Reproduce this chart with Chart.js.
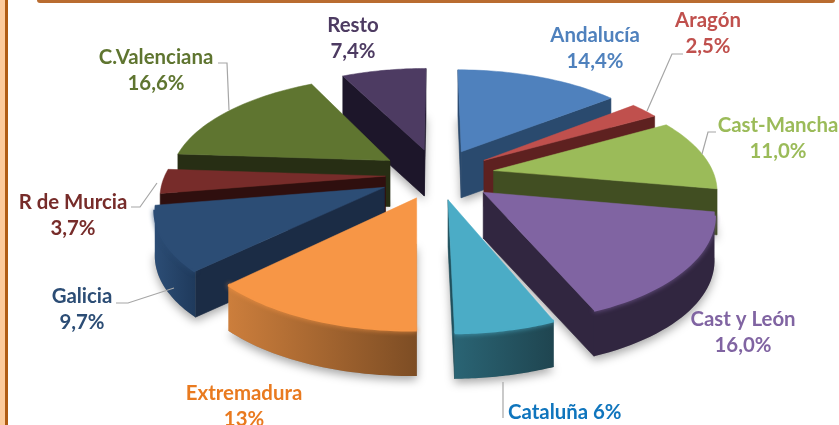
<!DOCTYPE html>
<html>
<head>
<meta charset="utf-8">
<style>
  html, body { margin: 0; padding: 0; background: #fff; }
  #wrap { position: relative; width: 839px; height: 425px; overflow: hidden; }
  #leftPeach { position: absolute; left: 0; top: 0; width: 5px; height: 425px; background: #fdcb9c; }
  #leftBar { position: absolute; left: 5px; top: 0; width: 3px; height: 425px; background: #b05c14; }
  #topBar { position: absolute; left: 37px; top: 0; width: 798px; height: 3px; background: #b96c30; border-radius: 0 0 3px 3px; }
  canvas { position: absolute; left: 0; top: 0; }
</style>
</head>
<body>
<div id="wrap">
  <div id="leftPeach"></div>
  <div id="leftBar"></div>
  <div id="topBar"></div>
  <canvas id="pie" width="839" height="425"></canvas>
</div>
<script src="https://cdn.jsdelivr.net/npm/chart.js@4/dist/chart.umd.min.js"></script>
<script>
const regions = ['Andalucía', 'Aragón', 'Cast-Mancha', 'Cast y León', 'Cataluña', 'Extremadura', 'Galicia', 'R de Murcia', 'C.Valenciana', 'Resto'];
const shares = [14.4, 2.5, 11.0, 16.0, 6, 13, 9.7, 3.7, 16.6, 7.4];
const shareLabels = ['14,4%', '2,5%', '11,0%', '16,0%', '6%', '13%', '9,7%', '3,7%', '16,6%', '7,4%'];

const faceColors = ['#4f81bd', '#c0504d', '#9bbb59', '#8064a2', '#4bacc6', '#f79646', '#2c4d75', '#772c2a', '#5f7530', '#4d3b62'];
const wallColors = ['#2a4a6e', '#5e2120', '#414e22', '#312640', '#1f4f5c', '#8a5226', '#1b2c45', '#2f0f0e', '#272e14', '#1d162a'];
const rimLeft = ['#2a4a6e', '#5e2120', '#414e22', '#312640', '#2a6474', '#cc7e3c', '#2c4d75', '#2f0f0e', '#272e14', '#1d162a'];
const rimRight = ['#2a4a6e', '#5e2120', '#414e22', '#312640', '#1f4550', '#7d4d24', '#1f3a5c', '#2f0f0e', '#272e14', '#1d162a'];
const textColors = ['#4f81bd', '#c0504d', '#9bbb59', '#8064a2', '#0f75bd', '#e97a1f', '#2c4d75', '#772c2a', '#5f7530', '#4d3b62'];

// how far each slice is pulled out of the pie, in pixels
const pullOut = [55, 55, 55, 55, 50, 49, 55, 49, 55, 55];

// label anchors and leader lines, in page pixels
const labelAt = [[595, 35], [708, 20], [778, 125], [743, 319], null, [244, 393], [82, 296], [73, 202], [156, 57], [353, 25]];
const secondLineGap = 26;
const leaders = [
  null,
  [[647, 111], [672, 54], [683, 54]],
  [[702, 154], [708, 132], [716, 132]],
  null,
  [[503, 382], [503, 418]],
  null,
  [[174, 288], [128, 303], [116, 303]],
  [[157, 183], [140, 207], [131, 207]],
  [[229, 110], [227, 63], [218, 63]],
  null
];

const camera = { wide: 1.05, tilt: 0.487, persp: 0.163, depth: 46 };

function project(cx, cy, R, u, v, z) {
  const s = 1 / (1 + camera.persp * v / R);
  return [cx + u * camera.wide * s, cy - v * camera.tilt * s + z];
}

function sliceGeometry(el) {
  const R = el.outerRadius;
  const off = el.options.offset;
  const mid = (el.startAngle + el.endAngle) / 2;
  const ox = Math.cos(mid) * off;
  const oy = -Math.sin(mid) * off;
  const pts = [];
  const steps = 30;
  for (let i = 0; i <= steps; i++) {
    const a = el.startAngle + (el.endAngle - el.startAngle) * i / steps;
    pts.push([ox + Math.cos(a) * R, oy - Math.sin(a) * R]);
  }
  return { R, ox, oy, pts, midV: oy };
}

function fillPoly(ctx, list) {
  ctx.beginPath();
  list.forEach((p, i) => (i ? ctx.lineTo(p[0], p[1]) : ctx.moveTo(p[0], p[1])));
  ctx.closePath();
  ctx.fill();
}

function area(list) {
  let sum = 0;
  list.forEach((p, i) => {
    const q = list[(i + 1) % list.length];
    sum += p[0] * q[1] - q[0] * p[1];
  });
  return sum;
}

function drawWall(ctx, quad, style) {
  if (area(quad) >= 0) return;
  ctx.fillStyle = style;
  ctx.strokeStyle = style;
  ctx.lineWidth = 0.6;
  fillPoly(ctx, quad);
  ctx.stroke();
}

const pie3d = {
  id: 'pie3d',
  beforeDatasetDraw(chart) {
    const ctx = chart.ctx;
    const arcs = chart.getDatasetMeta(0).data;
    const items = arcs.map((el, i) => {
      const g = sliceGeometry(el);
      const P = (u, v, z) => project(el.x, el.y, g.R, u, v, z);
      return {
        i, g,
        top: g.pts.map(p => P(p[0], p[1], 0)),
        bot: g.pts.map(p => P(p[0], p[1], camera.depth)),
        apexTop: P(g.ox, g.oy, 0),
        apexBot: P(g.ox, g.oy, camera.depth)
      };
    });
    items.sort((a, b) => b.g.midV - a.g.midV);

    // soft shadow under everything
    ctx.save();
    ctx.shadowColor = 'rgba(0,0,0,0.35)';
    ctx.shadowBlur = 10;
    ctx.shadowOffsetY = 4;
    ctx.fillStyle = '#999';
    items.forEach(it => fillPoly(ctx, [it.apexBot, ...it.bot]));
    ctx.restore();

    items.forEach(it => {
      const i = it.i;
      const n = it.top.length - 1;
      // radial walls
      drawWall(ctx, [it.apexTop, it.top[0], it.bot[0], it.apexBot], wallColors[i]);
      drawWall(ctx, [it.top[n], it.apexTop, it.apexBot, it.bot[n]], wallColors[i]);
      // curved wall as one shape so the shade has no seams
      const shown = [];
      for (let k = 0; k < n; k++) {
        if (area([it.top[k], it.top[k + 1], it.bot[k + 1], it.bot[k]]) < 0) shown.push(k);
      }
      if (shown.length) {
        const first = shown[0];
        const last = shown[shown.length - 1] + 1;
        const upper = it.top.slice(first, last + 1);
        const lower = it.bot.slice(first, last + 1).reverse();
        const xs = upper.map(p => p[0]);
        const grad = ctx.createLinearGradient(Math.max(...xs), 0, Math.min(...xs), 0);
        grad.addColorStop(0, rimRight[i]);
        grad.addColorStop(1, rimLeft[i]);
        ctx.fillStyle = grad;
        fillPoly(ctx, [...upper, ...lower]);
        // bevel along the rim
        ctx.save();
        ctx.strokeStyle = faceColors[i];
        ctx.shadowColor = faceColors[i];
        ctx.shadowBlur = 5;
        ctx.lineWidth = 3;
        ctx.beginPath();
        upper.forEach((p, j) => (j ? ctx.lineTo(p[0], p[1]) : ctx.moveTo(p[0], p[1])));
        ctx.stroke();
        ctx.restore();
      }
      // top face
      ctx.fillStyle = faceColors[i];
      ctx.strokeStyle = faceColors[i];
      ctx.lineWidth = 0.5;
      fillPoly(ctx, [it.apexTop, ...it.top]);
      ctx.stroke();
    });
    return false;
  },
  afterDraw(chart) {
    const ctx = chart.ctx;
    ctx.save();
    ctx.strokeStyle = '#a6a6a6';
    ctx.lineWidth = 1.2;
    leaders.forEach(line => {
      if (!line) return;
      ctx.beginPath();
      line.forEach((p, i) => (i ? ctx.lineTo(p[0], p[1]) : ctx.moveTo(p[0], p[1])));
      ctx.stroke();
    });
    ctx.font = 'bold 20.4px Lato, "Open Sans", sans-serif';
    ctx.textAlign = 'center';
    ctx.textBaseline = 'middle';
    regions.forEach((name, i) => {
      ctx.fillStyle = textColors[i];
      if (!labelAt[i]) {
        ctx.textAlign = 'left';
        ctx.fillText(name + ' ' + shareLabels[i], 508, 412);
        ctx.textAlign = 'center';
        return;
      }
      const [x, y] = labelAt[i];
      ctx.fillText(name, x, y);
      ctx.fillText(shareLabels[i], x, y + secondLineGap);
    });
    ctx.restore();
  }
};

new Chart(document.getElementById('pie'), {
  type: 'pie',
  data: {
    labels: regions,
    datasets: [{
      data: shares,
      backgroundColor: faceColors,
      borderWidth: 0,
      offset: pullOut,
      radius: 210
    }]
  },
  options: {
    responsive: false,
    animation: false,
    layout: { padding: { left: 35, bottom: 75 } },
    plugins: { legend: { display: false }, tooltip: { enabled: false } }
  },
  plugins: [pie3d]
});
</script>
</body>
</html>
